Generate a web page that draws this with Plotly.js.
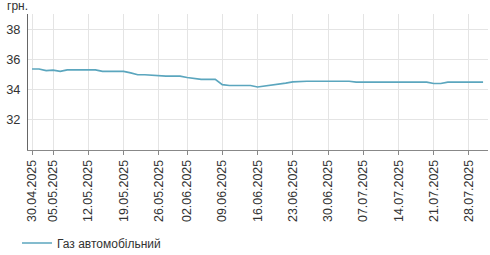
<!DOCTYPE html>
<html>
<head>
<meta charset="utf-8">
<script src="https://cdn.plot.ly/plotly-3.0.1.min.js"></script>
<style>html,body{margin:0;padding:0;background:#fff;}#chart{width:490px;height:255px;}</style>
</head>
<body>
<div id="chart"></div>
<script>
const dates = [
  "30.04.2025","01.05.2025","02.05.2025",
  "05.05.2025","06.05.2025","07.05.2025","08.05.2025","09.05.2025",
  "12.05.2025","13.05.2025","14.05.2025","15.05.2025","16.05.2025",
  "19.05.2025","20.05.2025","21.05.2025","22.05.2025","23.05.2025",
  "26.05.2025","27.05.2025","28.05.2025","29.05.2025",
  "02.06.2025","03.06.2025","04.06.2025","05.06.2025","06.06.2025",
  "09.06.2025","10.06.2025","11.06.2025","12.06.2025","13.06.2025",
  "16.06.2025","17.06.2025","18.06.2025","19.06.2025","20.06.2025",
  "23.06.2025","24.06.2025","25.06.2025","26.06.2025","27.06.2025",
  "30.06.2025","01.07.2025","02.07.2025","03.07.2025","04.07.2025",
  "07.07.2025","08.07.2025","09.07.2025","10.07.2025","11.07.2025",
  "14.07.2025","15.07.2025","16.07.2025","17.07.2025","18.07.2025",
  "21.07.2025","22.07.2025","23.07.2025","24.07.2025","25.07.2025",
  "28.07.2025","29.07.2025","30.07.2025"
];
const gasPrices = [
  35.36,35.36,35.25,
  35.28,35.20,35.30,35.30,35.30,
  35.30,35.30,35.20,35.20,35.20,
  35.20,35.10,34.98,34.98,34.95,
  34.89,34.89,34.89,34.89,
  34.80,34.72,34.67,34.67,34.67,
  34.32,34.27,34.27,34.27,34.27,
  34.17,34.23,34.30,34.33,34.43,
  34.51,34.55,34.55,34.55,34.55,
  34.55,34.55,34.55,34.55,34.49,
  34.51,34.49,34.49,34.49,34.49,
  34.49,34.49,34.49,34.49,34.49,
  34.40,34.40,34.49,34.49,34.49,
  34.49,34.49,34.49
];
const tickDates = ["30.04.2025","05.05.2025","12.05.2025","19.05.2025","26.05.2025","02.06.2025","09.06.2025","16.06.2025","23.06.2025","30.06.2025","07.07.2025","14.07.2025","21.07.2025","28.07.2025"];
const yTicks = [32,34,36,38];
const seriesName = "Газ автомобільний";
const unitLabel = "грн.";

const font = "Liberation Sans, Arial, sans-serif";
const trace = {
  x: dates, y: gasPrices, type: "scatter", mode: "lines",
  name: seriesName,
  line: {color: "#5ba6be", width: 1.7}
};
const layout = {
  width: 490, height: 255,
  margin: {l: 28, r: 2, t: 14, b: 105},
  paper_bgcolor: "#fff", plot_bgcolor: "#fff",
  font: {family: font, size: 12.5, color: "#333"},
  xaxis: {
    type: "category", range: [-0.57, 64.7],
    tickmode: "array", tickvals: tickDates, ticktext: tickDates,
    tickangle: -90, ticks: "outside", ticklen: 4, tickcolor: "#888",
    showgrid: true, gridcolor: "#e4e4e4", gridwidth: 1,
    showline: true, linecolor: "#888", linewidth: 1,
    tickfont: {family: font, size: 12.4, color: "#333"},
    fixedrange: true, zeroline: false
  },
  yaxis: {
    range: [30, 39], tickmode: "array", tickvals: yTicks,
    showgrid: true, gridcolor: "#e4e4e4", gridwidth: 1,
    showline: true, linecolor: "#666", linewidth: 1,
    ticks: "", ticklabelstandoff: 4,
    tickfont: {family: font, size: 12.8, color: "#333"},
    zeroline: false, fixedrange: true
  },
  showlegend: true,
  legend: {
    orientation: "h", xref: "container", yref: "container",
    x: 17/490, y: 1 - 243/255, xanchor: "left", yanchor: "middle",
    font: {family: font, size: 12, color: "#333"}, bgcolor: "rgba(0,0,0,0)"
  },
  annotations: [{
    text: unitLabel, xref: "paper", yref: "paper",
    x: -23/460, y: (150-6)/136, xanchor: "left", yanchor: "middle",
    showarrow: false, font: {family: font, size: 12, color: "#333"}
  }]
};
Plotly.newPlot("chart", [trace], layout, {displayModeBar: false, staticPlot: true});
</script>
</body>
</html>
